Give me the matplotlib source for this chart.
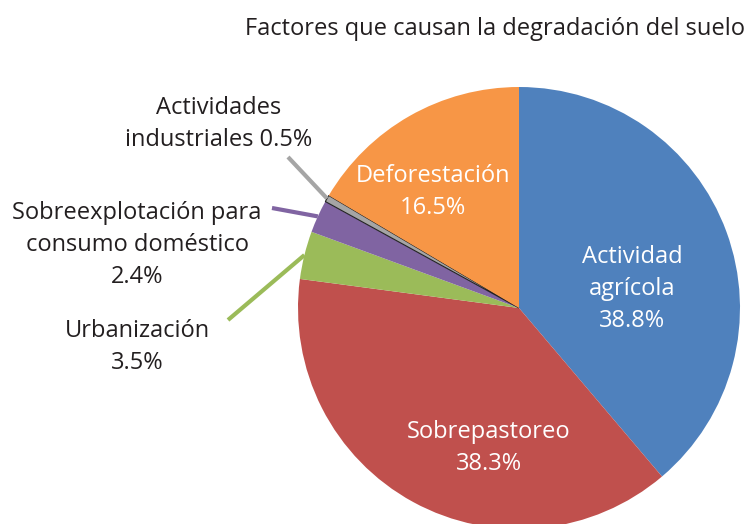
import numpy as np
import matplotlib.pyplot as plt

plt.rcParams['font.family'] = ['Open Sans', 'DejaVu Sans']

# Soil degradation causes (percent)
labels = ['Actividad\nagrícola', 'Sobrepastoreo', 'Urbanización',
          'Sobreexplotación para\nconsumo doméstico', 'Actividades\nindustriales',
          'Deforestación']
values = [38.8, 38.3, 3.5, 2.4, 0.5, 16.5]
colors = ['#4F81BD', '#C0504D', '#9BBB59', '#8064A2', '#A5A5A5', '#F79646']

W, H = 750, 524
fig = plt.figure(figsize=(W / 100, H / 100), dpi=100)
ax = fig.add_axes([0, 0, 1, 1])


def px(x, y):
    # pixel coordinates (origin top-left) -> data coordinates
    return x, H - y


cx, cy = px(519, 308)
r = 221
wedges, _ = ax.pie(values, colors=colors, startangle=90, counterclock=False,
                   center=(cx, cy), radius=r, frame=True,
                   wedgeprops=dict(linewidth=0))
wedges[4].set_edgecolor('#222222')
wedges[4].set_linewidth(0.8)
ax.set_xlim(0, W)
ax.set_ylim(0, H)
ax.set_aspect('equal')
ax.axis('off')

dark = '#231F20'
fs = 17
ls = 1.45

# labels inside the big slices
inside = {0: (632, 289), 1: (489, 448), 5: (433, 192)}
for i, (x, y) in inside.items():
    ax.text(*px(x, y), f'{labels[i]}\n{values[i]}%', color='white', fontsize=fs,
            ha='center', va='center', linespacing=ls)

# outside labels with leader lines to the slice edge
outside = {
    4: ((219, 124), (288, 157), f'{labels[4]} {values[4]}%'),
    3: ((137, 245), (272, 208), f'{labels[3]}\n{values[3]}%'),
    2: ((137, 347), (228, 320), f'{labels[2]}\n{values[2]}%'),
}
for i, (tpos, lpos, txt) in outside.items():
    ax.text(*px(*tpos), txt, color=dark, fontsize=fs, ha='center', va='center',
            linespacing=ls)
    w = wedges[i]
    mid = np.deg2rad((w.theta1 + w.theta2) / 2)
    ex, ey = cx + r * np.cos(mid), cy + r * np.sin(mid)
    lx, ly = px(*lpos)
    ax.plot([lx, ex], [ly, ey], color=colors[i], linewidth=3, solid_capstyle='butt')

ax.text(*px(745, 29), 'Factores que causan la degradación del suelo', color=dark,
        fontsize=fs, ha='right', va='center')

fig.savefig('out.png', dpi=100)
